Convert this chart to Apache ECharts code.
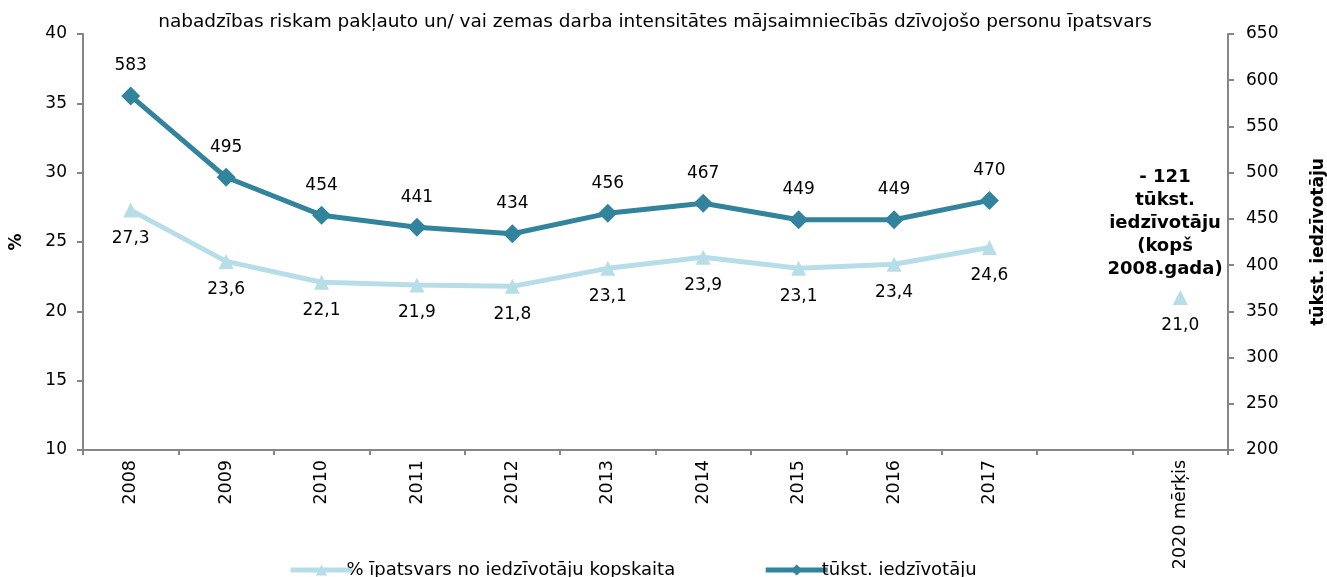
<!DOCTYPE html>
<html>
<head>
<meta charset="utf-8">
<script src="https://cdn.jsdelivr.net/npm/echarts@6/dist/echarts.min.js"></script>
<style>
  html, body { margin: 0; padding: 0; background: #fff; }
  #chart { width: 1327px; height: 577px; }
</style>
</head>
<body>
<div id="chart"></div>
<script>
// categories on the x axis (empty slot before the 2020 target)
var categories = ['2008', '2009', '2010', '2011', '2012', '2013', '2014', '2015', '2016', '2017', '', '2020 mērķis'];
// share of population, % (left axis)
var sharePct = [27.3, 23.6, 22.1, 21.9, 21.8, 23.1, 23.9, 23.1, 23.4, 24.6, null, 21.0];
// thousand inhabitants (right axis)
var thousands = [583, 495, 454, 441, 434, 456, 467, 449, 449, 470, null, null];

var font = 'Verdana, "DejaVu Sans", sans-serif';
var axisGray = '#868686';

var myChart = echarts.init(document.getElementById('chart'));
myChart.setOption({
    animation: false,
    textStyle: { fontFamily: font, color: '#000' },
    title: {
        text: 'nabadzības riskam pakļauto un/ vai zemas darba intensitātes mājsaimniecībās dzīvojošo personu īpatsvars',
        left: 650, top: 8, textAlign: 'center',
        textStyle: { fontFamily: font, fontSize: 18.5, fontWeight: 'normal', color: '#000' }
    },
    grid: { left: 83, right: 99, top: 34, bottom: 127, outerBoundsMode: 'none', containLabel: false },
    legend: {
        bottom: -7, left: 283,
        itemGap: 88, itemWidth: 62, itemHeight: 14,
        lineStyle: { width: 5 },
        textStyle: { fontFamily: font, fontSize: 18, color: '#000', padding: [0, 0, 0, -11] },
        data: ['% īpatsvars no iedzīvotāju kopskaita', 'tūkst. iedzīvotāju']
    },
    xAxis: {
        type: 'category',
        data: categories,
        boundaryGap: true,
        axisLine: { lineStyle: { color: axisGray, width: 2 } },
        axisTick: { show: true, length: 5, lineStyle: { color: axisGray, width: 2 } },
        axisLabel: { rotate: 90, interval: 0, fontSize: 17.5, color: '#000', fontFamily: font, margin: 10 }
    },
    yAxis: [{
        type: 'value', min: 10, max: 40, interval: 5,
        name: '%', nameLocation: 'middle', nameGap: 58, nameRotate: 90,
        nameTextStyle: { fontFamily: font, fontSize: 17, fontWeight: 'bold', color: '#000' },
        axisLine: { show: true, lineStyle: { color: axisGray, width: 2 } },
        axisTick: { show: true, length: 6, lineStyle: { color: axisGray, width: 2 } },
        axisLabel: { fontSize: 17, color: '#000', fontFamily: font, margin: 16 },
        splitLine: { show: false }
    }, {
        type: 'value', min: 200, max: 650, interval: 50,
        name: 'tūkst. iedzīvotāju', nameLocation: 'middle', nameGap: 82, nameRotate: 90,
        nameTextStyle: { fontFamily: font, fontSize: 17, fontWeight: 'bold', color: '#000' },
        axisLine: { show: true, lineStyle: { color: axisGray, width: 2 } },
        axisTick: { show: true, length: 6, lineStyle: { color: axisGray, width: 2 } },
        axisLabel: { fontSize: 17, color: '#000', fontFamily: font, margin: 18 },
        splitLine: { show: false }
    }],
    series: [{
        name: '% īpatsvars no iedzīvotāju kopskaita',
        type: 'line',
        yAxisIndex: 0,
        data: sharePct,
        connectNulls: false,
        symbol: 'triangle', symbolSize: 15,
        lineStyle: { color: '#b7dee8', width: 5 },
        itemStyle: { color: '#b7dee8' },
        label: {
            show: true, position: 'bottom', distance: 12,
            fontSize: 17, color: '#000', fontFamily: font,
            formatter: function (p) { return p.value == null ? '' : p.value.toFixed(1).replace('.', ','); }
        }
    }, {
        name: 'tūkst. iedzīvotāju',
        type: 'line',
        yAxisIndex: 1,
        data: thousands,
        symbol: 'diamond', symbolSize: 19,
        lineStyle: { color: '#31849b', width: 5 },
        itemStyle: { color: '#31849b' },
        label: {
            show: true, position: 'top', distance: 12,
            fontSize: 17, color: '#000', fontFamily: font
        }
    }],
    graphic: [{
        type: 'text',
        x: 1165, y: 166,
        style: {
            text: '- 121\ntūkst.\niedzīvotāju\n(kopš\n2008.gada)',
            align: 'center',
            verticalAlign: 'top',
            font: 'bold 18px ' + font,
            lineHeight: 23,
            fill: '#000'
        }
    }]
});
</script>
</body>
</html>
